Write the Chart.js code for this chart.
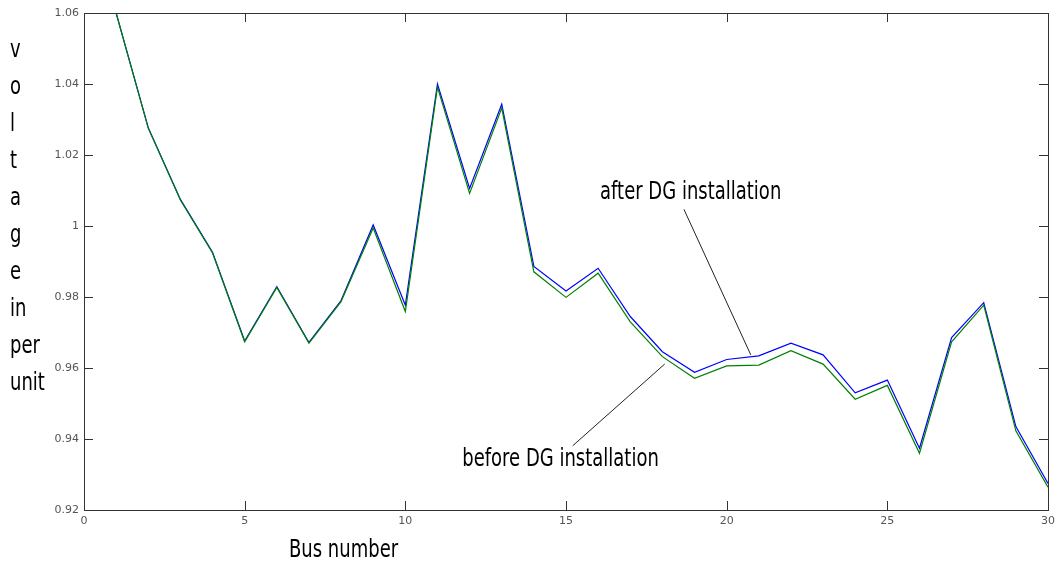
<!DOCTYPE html>
<html>
<head>
<meta charset="utf-8">
<script src="https://cdn.jsdelivr.net/npm/chart.js@4.4.1/dist/chart.umd.min.js"></script>
<style>
  html, body { margin: 0; padding: 0; background: #fff; }
  #wrap { width: 1060px; height: 570px; position: relative; }
</style>
</head>
<body>
<div id="wrap"><canvas id="voltage"></canvas></div>
<script>
const busNumbers = [1, 2, 3, 4, 5, 6, 7, 8, 9, 10, 11, 12, 13, 14, 15, 16, 17, 18, 19, 20, 21, 22, 23, 24, 25, 26, 27, 28, 29, 30];
const afterDG = [1.0600, 1.0277, 1.0075, 0.9926, 0.9676, 0.9829, 0.9672, 0.9790, 1.0003, 0.9777, 1.0400, 1.0106, 1.0343, 0.9886, 0.9817, 0.9881, 0.9745, 0.9646, 0.9588, 0.9624, 0.9634, 0.9670, 0.9637, 0.9530, 0.9566, 0.9374, 0.9686, 0.9784, 0.9435, 0.9275];
const beforeDG = [1.0600, 1.0275, 1.0073, 0.9924, 0.9674, 0.9827, 0.9670, 0.9787, 0.9994, 0.9759, 1.0391, 1.0092, 1.0332, 0.9871, 0.9799, 0.9867, 0.9730, 0.9632, 0.9571, 0.9606, 0.9608, 0.9649, 0.9611, 0.9512, 0.9551, 0.9360, 0.9674, 0.9777, 0.9423, 0.9264];
const xTicks = [0, 5, 10, 15, 20, 25, 30];
const yTicks = [0.92, 0.94, 0.96, 0.98, 1, 1.02, 1.04, 1.06];
const yTitleLines = ['v', 'o', 'l', 't', 'a', 'g', 'e', 'in', 'per', 'unit'];

// callouts in data units: text centre, then leader line from -> to
const callouts = [
  { text: 'after DG installation', x: 18.88, y: 1.0093, from: [18.67, 1.0047], to: [20.75, 0.9637] },
  { text: 'before DG installation', x: 14.83, y: 0.9341, from: [15.21, 0.9381], to: [18.07, 0.9611] },
];

// the original uses a tall narrow face; squeeze a normal sans horizontally
const narrowFont = "25px 'DejaVu Sans', sans-serif";
const squeeze = 0.72;

function fillNarrow(ctx, text, x, y, align) {
  ctx.save();
  ctx.translate(x, y);
  ctx.scale(squeeze, 1);
  ctx.textAlign = align;
  ctx.fillText(text, 0, 0);
  ctx.restore();
}

const framePlugin = {
  id: 'frame',
  afterDatasetsDraw(chart) {
    const { ctx, chartArea: a, scales: { x, y } } = chart;
    ctx.save();
    ctx.strokeStyle = '#333';
    ctx.lineWidth = 1;
    ctx.strokeRect(a.left + 0.5, a.top + 0.5, a.right - a.left, a.bottom - a.top);

    // inward ticks on all four sides
    ctx.beginPath();
    xTicks.forEach((v) => {
      const px = Math.round(x.getPixelForValue(v)) + 0.5;
      ctx.moveTo(px, a.bottom);
      ctx.lineTo(px, a.bottom - 9);
      ctx.moveTo(px, a.top);
      ctx.lineTo(px, a.top + 9);
    });
    yTicks.forEach((v) => {
      const py = Math.round(y.getPixelForValue(v)) + 0.5;
      ctx.moveTo(a.left, py);
      ctx.lineTo(a.left + 9, py);
      ctx.moveTo(a.right, py);
      ctx.lineTo(a.right - 9, py);
    });
    ctx.stroke();

    // callouts
    ctx.fillStyle = '#000';
    ctx.font = narrowFont;
    ctx.textBaseline = 'middle';
    callouts.forEach((c) => {
      fillNarrow(ctx, c.text, x.getPixelForValue(c.x), y.getPixelForValue(c.y), 'center');
      ctx.beginPath();
      ctx.strokeStyle = '#222';
      ctx.moveTo(x.getPixelForValue(c.from[0]), y.getPixelForValue(c.from[1]));
      ctx.lineTo(x.getPixelForValue(c.to[0]), y.getPixelForValue(c.to[1]));
      ctx.stroke();
    });

    // vertical stacked y title and x title
    yTitleLines.forEach((t, i) => {
      fillNarrow(ctx, t, 10, 50 + i * 37, 'left');
    });
    fillNarrow(ctx, 'Bus number', 289, 550, 'left');
    ctx.restore();
  },
};

new Chart(document.getElementById('voltage'), {
  type: 'line',
  data: {
    labels: busNumbers,
    datasets: [
      {
        label: 'after DG installation',
        data: busNumbers.map((b, i) => ({ x: b, y: afterDG[i] })),
        borderColor: '#0000ff',
        borderWidth: 1.2,
        pointRadius: 0,
        tension: 0,
        order: 1,
      },
      {
        label: 'before DG installation',
        data: busNumbers.map((b, i) => ({ x: b, y: beforeDG[i] })),
        borderColor: '#008000',
        borderWidth: 1.2,
        pointRadius: 0,
        tension: 0,
        order: 0,
      },
    ],
  },
  options: {
    responsive: true,
    maintainAspectRatio: false,
    animation: false,
    layout: { padding: { top: 13, right: 8, left: 0, bottom: 0 } },
    plugins: { legend: { display: false }, tooltip: { enabled: false } },
    scales: {
      x: {
        type: 'linear',
        min: 0,
        max: 30,
        afterBuildTicks: (scale) => { scale.ticks = xTicks.map((v) => ({ value: v })); },
        afterFit: (scale) => { scale.height = 60; },
        grid: { display: false, drawTicks: false },
        border: { display: false },
        ticks: { color: '#555', font: { size: 11, family: 'DejaVu Sans' }, padding: 5, maxRotation: 0 },
      },
      y: {
        min: 0.92,
        max: 1.06,
        afterBuildTicks: (scale) => { scale.ticks = yTicks.map((v) => ({ value: v })); },
        afterFit: (scale) => { scale.width = 84; },
        grid: { display: false, drawTicks: false },
        border: { display: false },
        ticks: {
          color: '#555',
          font: { size: 11, family: 'DejaVu Sans' },
          padding: 5,
          callback: (v) => String(v),
        },
      },
    },
  },
  plugins: [framePlugin],
});
</script>
</body>
</html>
